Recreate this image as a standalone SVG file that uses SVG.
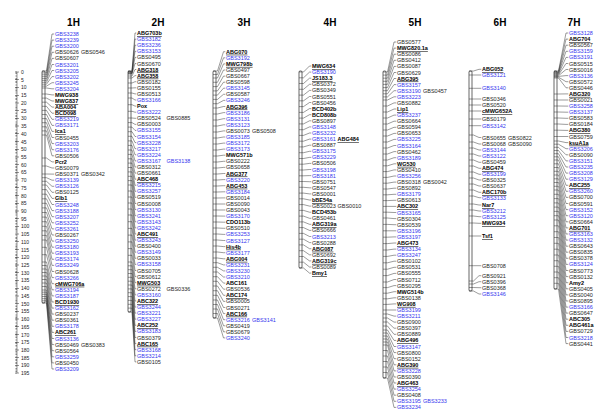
<svg xmlns="http://www.w3.org/2000/svg" width="600" height="415" viewBox="0 0 600 415">
<style>
.t{font-family:"Liberation Sans",Arial,sans-serif;font-size:5.5px;fill:#1e1e1e}
.b{fill:#3636ee}
.m{font-weight:bold;fill:#000}
.u{font-weight:bold;fill:#000;text-decoration:underline}
.h{font-family:"Liberation Sans",Arial,sans-serif;font-size:10px;font-weight:bold;text-anchor:middle;fill:#000}
.bar{fill:#fff;stroke:#000;stroke-width:0.6}
.c{fill:none;stroke:#222;stroke-width:0.45}
.r{font-family:"Liberation Sans",Arial,sans-serif;font-size:5px;fill:#222}
</style>
<rect width="600" height="415" fill="#fff"/>
<g id="scale">
<line x1="17" y1="72" x2="17" y2="373.1" stroke="#333" stroke-width="0.5"/>
<line x1="16.2" y1="71.8" x2="16.2" y2="373.5" stroke="#333" stroke-width="1.6" stroke-dasharray="0.4 1.144"/>
<line x1="17" y1="71.75" x2="17" y2="373.5" stroke="#333" stroke-width="4" stroke-dasharray="0.5 7.22"/>
<g class="r" transform="translate(21,0)">
<text y="74">0</text><text y="81.7">5</text><text y="89.4">10</text><text y="97.2">15</text><text y="104.9">20</text><text y="112.6">25</text><text y="120.3">30</text><text y="128">35</text><text y="135.8">40</text><text y="143.5">45</text><text y="151.2">50</text><text y="158.9">55</text><text y="166.6">60</text><text y="174.4">65</text><text y="182.1">70</text><text y="189.8">75</text><text y="197.5">80</text><text y="205.2">85</text><text y="213">90</text><text y="220.7">95</text><text y="228.4">100</text><text y="236.1">105</text><text y="243.8">110</text><text y="251.6">115</text><text y="259.3">120</text><text y="267">125</text><text y="274.7">130</text><text y="282.4">135</text><text y="290.2">140</text><text y="297.9">145</text><text y="305.6">150</text><text y="313.3">155</text><text y="321">160</text><text y="328.8">165</text><text y="336.5">170</text><text y="344.2">175</text><text y="351.9">180</text><text y="359.6">185</text><text y="367.4">190</text><text y="375.1">195</text>
</g>
</g>
<g id="bars">
<rect class="bar" x="42" y="71" width="3" height="232" rx="1"/>
<rect class="bar" x="128" y="71" width="3" height="241" rx="1"/>
<rect class="bar" x="213" y="71" width="3" height="247" rx="1"/>
<rect class="bar" x="299" y="71" width="3" height="197" rx="1"/>
<rect class="bar" x="383" y="71" width="3" height="307" rx="1"/>
<rect class="bar" x="469" y="71" width="3" height="220" rx="1"/>
<rect class="bar" x="554" y="71" width="3" height="218" rx="1"/>
</g>
<g id="connectors" class="c">
<path d="M42 71H46.5L52 34H54.2M42 72.9H46.5L52 40.1H54.2M42 74.8H46.5L52 46.2H54.2M42 76.7H46.5L52 52.3H54.2M42 78.6H46.5L52 58.4H54.2M42 80.4H46.5L52 64.5H54.2M42 82.3H46.5L52 70.5H54.2M42 84.2H46.5L52 76.6H54.2M42 86.1H46.5L52 82.7H54.2M42 88H46.5L52 88.8H54.2M42 94H46.5L52 94.9H54.2M42 98.1H46.5L52 101H54.2M42 102.2H46.5L52 107.1H54.2M42 106.3H46.5L52 113.2H54.2M42 110.4H46.5L52 119.3H54.2M42 114.5H46.5L52 125.4H54.2M42 118.6H46.5L52 131.4H54.2M42 122.7H46.5L52 137.5H54.2M42 126.8H46.5L52 143.6H54.2M42 130.9H46.5L52 149.7H54.2M42 135H46.5L52 155.8H54.2M42 158H46.5L52 161.9H54.2M42 166H46.5L52 168H54.2M42 174H46.5L52 174.1H54.2M42 177.7H46.5L52 180.2H54.2M42 181.3H46.5L52 186.3H54.2M42 185H46.5L52 192.3H54.2M42 189.6H46.5L52 198.4H54.2M42 194.2H46.5L52 204.5H54.2M42 198.8H46.5L52 210.6H54.2M42 203.3H46.5L52 216.7H54.2M42 207.9H46.5L52 222.8H54.2M42 212.5H46.5L52 228.9H54.2M42 217.1H46.5L52 235H54.2M42 221.7H46.5L52 241.1H54.2M42 226.3H46.5L52 247.2H54.2M42 230.8H46.5L52 253.2H54.2M42 235.4H46.5L52 259.3H54.2M42 240H46.5L52 265.4H54.2M42 247.3H46.5L52 271.5H54.2M42 254.7H46.5L52 277.6H54.2M42 262H46.5L52 283.7H54.2M42 265.5H46.5L52 289.8H54.2M42 269H46.5L52 295.9H54.2M42 272.5H46.5L52 302H54.2M42 276H46.5L52 308.1H54.2M42 279.5H46.5L52 314.1H54.2M42 283H46.5L52 320.2H54.2M42 286.5H46.5L52 326.3H54.2M42 290H46.5L52 332.4H54.2M42 292.2H46.5L52 338.5H54.2M42 294.3H46.5L52 344.6H54.2M42 296.5H46.5L52 350.7H54.2M42 298.7H46.5L52 356.8H54.2M42 300.8H46.5L52 362.9H54.2M42 303H46.5L52 369H54.2"/>
<path d="M128 71H132L135 33H136.3M128 71.6H132L135 39.1H136.3M128 72.2H132L135 45.2H136.3M128 72.8H132L135 51.3H136.3M128 73.4H132L135 57.4H136.3M128 74H132L135 63.5H136.3M128 76H132L135 69.5H136.3M128 78H132L135 75.6H136.3M128 83H132L135 81.7H136.3M128 88H132L135 87.8H136.3M128 93H132L135 93.9H136.3M128 98H132L135 100H136.3M128 104.7H132L135 106.1H136.3M128 111.3H132L135 112.2H136.3M128 118H132L135 118.3H136.3M128 122.6H132L135 124.4H136.3M128 127.1H132L135 130.4H136.3M128 131.7H132L135 136.5H136.3M128 136.3H132L135 142.6H136.3M128 140.9H132L135 148.7H136.3M128 145.4H132L135 154.8H136.3M128 150H132L135 160.9H136.3M128 154.4H132L135 167H136.3M128 158.8H132L135 173.1H136.3M128 163.1H132L135 179.2H136.3M128 167.5H132L135 185.3H136.3M128 171.9H132L135 191.3H136.3M128 176.3H132L135 197.4H136.3M128 180.6H132L135 203.5H136.3M128 185H132L135 209.6H136.3M128 191H132L135 215.7H136.3M128 197H132L135 221.8H136.3M128 203H132L135 227.9H136.3M128 209H132L135 234H136.3M128 215H132L135 240.1H136.3M128 221.7H132L135 246.2H136.3M128 228.4H132L135 252.2H136.3M128 235.1H132L135 258.3H136.3M128 241.9H132L135 264.4H136.3M128 248.6H132L135 270.5H136.3M128 255.3H132L135 276.6H136.3M128 262H132L135 282.7H136.3M128 265.8H132L135 288.8H136.3M128 269.7H132L135 294.9H136.3M128 273.5H132L135 301H136.3M128 277.3H132L135 307.1H136.3M128 281.2H132L135 313.1H136.3M128 285H132L135 319.2H136.3M128 288.9H132L135 325.3H136.3M128 292.7H132L135 331.4H136.3M128 296.6H132L135 337.5H136.3M128 300.4H132L135 343.6H136.3M128 304.3H132L135 349.7H136.3M128 308.1H132L135 355.8H136.3M128 312H132L135 361.9H136.3"/>
<path d="M213 71H217.5L223.5 51.7H225.3M213 74.5H217.5L223.5 57.8H225.3M213 78H217.5L223.5 63.9H225.3M213 82.3H217.5L223.5 70H225.3M213 86.6H217.5L223.5 76.1H225.3M213 90.9H217.5L223.5 82.2H225.3M213 95.1H217.5L223.5 88.2H225.3M213 99.4H217.5L223.5 94.3H225.3M213 103.7H217.5L223.5 100.4H225.3M213 108H217.5L223.5 106.5H225.3M213 114H217.5L223.5 112.6H225.3M213 120H217.5L223.5 118.7H225.3M213 126H217.5L223.5 124.8H225.3M213 132H217.5L223.5 130.9H225.3M213 138H217.5L223.5 137H225.3M213 144H217.5L223.5 143.1H225.3M213 150H217.5L223.5 149.1H225.3M213 156H217.5L223.5 155.2H225.3M213 162H217.5L223.5 161.3H225.3M213 168H217.5L223.5 167.4H225.3M213 174H217.5L223.5 173.5H225.3M213 180H217.5L223.5 179.6H225.3M213 186H217.5L223.5 185.7H225.3M213 192H217.5L223.5 191.8H225.3M213 198H217.5L223.5 197.9H225.3M213 204H217.5L223.5 204H225.3M213 210H217.5L223.5 210H225.3M213 216H217.5L223.5 216.1H225.3M213 222H217.5L223.5 222.2H225.3M213 228H217.5L223.5 228.3H225.3M213 234H217.5L223.5 234.4H225.3M213 240H217.5L223.5 240.5H225.3M213 246H217.5L223.5 246.6H225.3M213 252H217.5L223.5 252.7H225.3M213 258H217.5L223.5 258.8H225.3M213 262.7H217.5L223.5 264.9H225.3M213 267.3H217.5L223.5 270.9H225.3M213 272H217.5L223.5 277H225.3M213 276.7H217.5L223.5 283.1H225.3M213 281.3H217.5L223.5 289.2H225.3M213 286H217.5L223.5 295.3H225.3M213 290.7H217.5L223.5 301.4H225.3M213 295.3H217.5L223.5 307.5H225.3M213 300H217.5L223.5 313.6H225.3M213 304.5H217.5L223.5 319.7H225.3M213 309H217.5L223.5 325.8H225.3M213 313.5H217.5L223.5 331.8H225.3M213 318H217.5L223.5 337.9H225.3"/>
<path d="M299 72H303.5L309.5 66H311.3M299 77.8H303.5L309.5 72.1H311.3M299 83.5H303.5L309.5 78.2H311.3M299 89.3H303.5L309.5 84.3H311.3M299 95.1H303.5L309.5 90.4H311.3M299 100.8H303.5L309.5 96.5H311.3M299 106.6H303.5L309.5 102.5H311.3M299 112.4H303.5L309.5 108.6H311.3M299 118.1H303.5L309.5 114.7H311.3M299 123.9H303.5L309.5 120.8H311.3M299 129.7H303.5L309.5 126.9H311.3M299 135.4H303.5L309.5 133H311.3M299 141.2H303.5L309.5 139.1H311.3M299 146.9H303.5L309.5 145.2H311.3M299 152.7H303.5L309.5 151.3H311.3M299 158.5H303.5L309.5 157.4H311.3M299 164.2H303.5L309.5 163.4H311.3M299 170H303.5L309.5 169.5H311.3M299 175.8H303.5L309.5 175.6H311.3M299 181.5H303.5L309.5 181.7H311.3M299 187.3H303.5L309.5 187.8H311.3M299 193.1H303.5L309.5 193.9H311.3M299 198.8H303.5L309.5 200H311.3M299 204.6H303.5L309.5 206.1H311.3M299 210.4H303.5L309.5 212.2H311.3M299 216.1H303.5L309.5 218.3H311.3M299 221.9H303.5L309.5 224.3H311.3M299 227.6H303.5L309.5 230.4H311.3M299 233.4H303.5L309.5 236.5H311.3M299 239.2H303.5L309.5 242.6H311.3M299 244.9H303.5L309.5 248.7H311.3M299 250.7H303.5L309.5 254.8H311.3M299 256.5H303.5L309.5 260.9H311.3M299 262.2H303.5L309.5 267H311.3M299 268H303.5L309.5 273.1H311.3"/>
<path d="M383 72H387.5L394 42H396.3M383 75.1H387.5L394 48.1H396.3M383 78.2H387.5L394 54.2H396.3M383 81.3H387.5L394 60.3H396.3M383 84.4H387.5L394 66.4H396.3M383 87.6H387.5L394 72.5H396.3M383 90.7H387.5L394 78.5H396.3M383 93.8H387.5L394 84.6H396.3M383 96.9H387.5L394 90.7H396.3M383 100H387.5L394 96.8H396.3M383 106H387.5L394 102.9H396.3M383 112H387.5L394 109H396.3M383 118H387.5L394 115.1H396.3M383 124H387.5L394 121.2H396.3M383 130H387.5L394 127.3H396.3M383 136H387.5L394 133.4H396.3M383 142H387.5L394 139.4H396.3M383 148H387.5L394 145.5H396.3M383 154H387.5L394 151.6H396.3M383 160H387.5L394 157.7H396.3M383 165.8H387.5L394 163.8H396.3M383 171.6H387.5L394 169.9H396.3M383 177.4H387.5L394 176H396.3M383 183.2H387.5L394 182.1H396.3M383 189H387.5L394 188.2H396.3M383 194.8H387.5L394 194.3H396.3M383 200.6H387.5L394 200.3H396.3M383 206.4H387.5L394 206.4H396.3M383 212.2H387.5L394 212.5H396.3M383 218H387.5L394 218.6H396.3M383 224.4H387.5L394 224.7H396.3M383 230.8H387.5L394 230.8H396.3M383 237.2H387.5L394 236.9H396.3M383 243.6H387.5L394 243H396.3M383 250H387.5L394 249.1H396.3M383 256.4H387.5L394 255.2H396.3M383 262.8H387.5L394 261.2H396.3M383 269.2H387.5L394 267.3H396.3M383 275.6H387.5L394 273.4H396.3M383 282H387.5L394 279.5H396.3M383 287.6H387.5L394 285.6H396.3M383 293.2H387.5L394 291.7H396.3M383 298.8H387.5L394 297.8H396.3M383 304.4H387.5L394 303.9H396.3M383 310H387.5L394 310H396.3M383 314H387.5L394 316.1H396.3M383 318H387.5L394 322.1H396.3M383 322H387.5L394 328.2H396.3M383 326H387.5L394 334.3H396.3M383 330H387.5L394 340.4H396.3M383 333H387.5L394 346.5H396.3M383 336H387.5L394 352.6H396.3M383 339H387.5L394 358.7H396.3M383 342H387.5L394 364.8H396.3M383 345H387.5L394 370.9H396.3M383 350.5H387.5L394 377H396.3M383 356H387.5L394 383H396.3M383 361.5H387.5L394 389.1H396.3M383 367H387.5L394 395.2H396.3M383 372.5H387.5L394 401.3H396.3M383 378H387.5L394 407.4H396.3"/>
<path d="M469 71H473.5L479 69.3H481.3M469 75H473.5L479 75H481.3M469 88.3H473.5L479 88.3H481.3M469 99H473.5L479 99H481.3M469 105H473.5L479 105H481.3M469 111H473.5L479 111H481.3M469 119H473.5L479 119H481.3M469 125.7H473.5L479 125.7H481.3M469 135H473.5L479 137.5H481.3M469 142H473.5L479 144H481.3M469 148H473.5L479 150H481.3M469 154H473.5L479 156H481.3M469 160H473.5L479 162.3H481.3M469 166H473.5L479 168.3H481.3M469 172H473.5L479 174.3H481.3M469 178H473.5L479 180H481.3M469 184H473.5L479 186H481.3M469 190H473.5L479 192.3H481.3M469 196H473.5L479 197.7H481.3M469 204H473.5L479 205H481.3M469 210H473.5L479 211H481.3M469 216H473.5L479 216.7H481.3M469 223H473.5L479 223.3H481.3M469 236H473.5L479 236H481.3M469 265.7H473.5L479 265.7H481.3M469 281H473.5L479 275.7H481.3M469 284H473.5L479 281.7H481.3M469 287.5H473.5L479 287.7H481.3M469 291H473.5L479 294H481.3"/>
<path d="M554 71H558.5L566 33H568.3M554 71.8H558.5L566 39.1H568.3M554 72.6H558.5L566 45.2H568.3M554 73.3H558.5L566 51.3H568.3M554 74.1H558.5L566 57.4H568.3M554 74.9H558.5L566 63.5H568.3M554 75.7H558.5L566 69.5H568.3M554 76.4H558.5L566 75.6H568.3M554 77.2H558.5L566 81.7H568.3M554 78H558.5L566 87.8H568.3M554 94H558.5L566 93.9H568.3M554 100H558.5L566 100H568.3M554 106H558.5L566 106.1H568.3M554 112H558.5L566 112.2H568.3M554 118H558.5L566 118.3H568.3M554 124H558.5L566 124.4H568.3M554 130.2H558.5L566 130.4H568.3M554 136.5H558.5L566 136.5H568.3M554 141H558.5L566 142.6H568.3M554 144.2H558.5L566 148.7H568.3M554 147.3H558.5L566 154.8H568.3M554 150.5H558.5L566 160.9H568.3M554 153.7H558.5L566 167H568.3M554 156.8H558.5L566 173.1H568.3M554 160H558.5L566 179.2H568.3M554 163.8H558.5L566 185.3H568.3M554 167.5H558.5L566 191.3H568.3M554 171.3H558.5L566 197.4H568.3M554 175H558.5L566 203.5H568.3M554 178.8H558.5L566 209.6H568.3M554 182.5H558.5L566 215.7H568.3M554 186.3H558.5L566 221.8H568.3M554 190H558.5L566 227.9H568.3M554 194.3H558.5L566 234H568.3M554 198.6H558.5L566 240.1H568.3M554 202.9H558.5L566 246.2H568.3M554 207.1H558.5L566 252.2H568.3M554 211.4H558.5L566 258.3H568.3M554 215.7H558.5L566 264.4H568.3M554 220H558.5L566 270.5H568.3M554 225.8H558.5L566 276.6H568.3M554 231.7H558.5L566 282.7H568.3M554 237.5H558.5L566 288.8H568.3M554 243.3H558.5L566 294.9H568.3M554 249.2H558.5L566 301H568.3M554 255H558.5L566 307.1H568.3M554 260.7H558.5L566 313.1H568.3M554 266.3H558.5L566 319.2H568.3M554 272H558.5L566 325.3H568.3M554 277.7H558.5L566 331.4H568.3M554 283.3H558.5L566 337.5H568.3M554 289H558.5L566 343.6H568.3"/>
</g>
<g id="chr1H">
<text class="h" x="73.5" y="26">1H</text>
<g class="t" transform="translate(55,0)">
<text y="36" class="b">GBS3238</text><text y="42.1" class="b">GBS3239</text><text y="48.2" class="b">GBS3200</text><text y="54.3">GBS0626</text><text x="26" y="54.3">GBS0546</text><text y="60.4">GBS0607</text><text y="66.5" class="b">GBS3201</text><text y="72.5" class="b">GBS3205</text><text y="78.6" class="b">GBS3202</text><text y="84.7" class="b">GBS3245</text><text y="90.8" class="b">GBS3204</text><text y="96.9" class="m">MWG938</text><text y="103" class="u">MWG837</text><text y="109.1" class="u">ABA004</text><text y="115.2" class="u">BCD098</text><text y="121.3" class="b">GBS3219</text><text y="127.4" class="b">GBS3171</text><text y="133.4" class="u">Ica1</text><text y="139.5">GBS0455</text><text y="145.6" class="b">GBS3203</text><text y="151.7" class="b">GBS3176</text><text y="157.8">GBS0506</text><text y="163.9" class="m">Pcr2</text><text y="170">GBS0079</text><text y="176.1">GBS0371</text><text x="26" y="176.1">GBS0342</text><text y="182.2" class="b">GBS3139</text><text y="188.3" class="b">GBS3126</text><text y="194.3">GBS0125</text><text y="200.4" class="u">Glb1</text><text y="206.5" class="b">GBS3248</text><text y="212.6" class="b">GBS3188</text><text y="218.7" class="b">GBS3207</text><text y="224.8" class="b">GBS3252</text><text y="230.9" class="b">GBS3261</text><text y="237">GBS0267</text><text y="243.1" class="b">GBS3250</text><text y="249.2" class="b">GBS3180</text><text y="255.2" class="b">GBS3193</text><text y="261.3" class="b">GBS3174</text><text y="267.4" class="b">GBS3249</text><text y="273.5">GBS0628</text><text y="279.6" class="b">GBS3266</text><text y="285.7" class="u">cMWG706a</text><text y="291.8" class="b">GBS3194</text><text y="297.9" class="b">GBS3187</text><text y="304" class="u">BCD1930</text><text y="310.1" class="b">GBS3162</text><text y="316.1">GBS0237</text><text y="322.2">GBS0361</text><text y="328.3" class="b">GBS3178</text><text y="334.4" class="u">ABC261</text><text y="340.5" class="b">GBS3136</text><text y="346.6">GBS0469</text><text x="26" y="346.6">GBS0383</text><text y="352.7">GBS0564</text><text y="358.8" class="b">GBS3259</text><text y="364.9">GBS0450</text><text y="371" class="b">GBS3209</text>
</g>
</g>
<g id="chr2H">
<text class="h" x="158" y="26">2H</text>
<g class="t" transform="translate(137,0)">
<text y="35" class="u">ABG703b</text><text y="41.1" class="b">GBS3182</text><text y="47.2" class="b">GBS3236</text><text y="53.3" class="b">GBS3153</text><text y="59.4">GBS0495</text><text y="65.5">GBS0670</text><text y="71.5" class="u">ABG318</text><text y="77.6" class="u">ABG358</text><text y="83.7">GBS0182</text><text y="89.8">GBS0155</text><text y="95.9">GBS0513</text><text y="102" class="b">GBS3166</text><text y="108.1" class="m">Pox</text><text y="114.2" class="b">GBS3222</text><text y="120.3">GBS0524</text><text x="29.5" y="120.3">GBS0885</text><text y="126.4">GBS0003</text><text y="132.4" class="b">GBS3155</text><text y="138.5" class="b">GBS3154</text><text y="144.6" class="b">GBS3228</text><text y="150.7" class="b">GBS3217</text><text y="156.8" class="b">GBS3224</text><text y="162.9" class="b">GBS3167</text><text x="29.5" y="162.9" class="b">GBS3138</text><text y="169">GBS0312</text><text y="175.1">GBS0661</text><text y="181.2" class="u">ABC468</text><text y="187.3" class="b">GBS3215</text><text y="193.3" class="b">GBS3257</text><text y="199.4">GBS0519</text><text y="205.5">GBS0008</text><text y="211.6" class="b">GBS3130</text><text y="217.7" class="b">GBS3241</text><text y="223.8" class="b">GBS3143</text><text y="229.9" class="b">GBS3242</text><text y="236" class="u">ABC491</text><text y="242.1" class="b">GBS3243</text><text y="248.2">GBS0400</text><text y="254.2" class="b">GBS3149</text><text y="260.3">GBS0033</text><text y="266.4" class="b">GBS3158</text><text y="272.5">GBS0705</text><text y="278.6">GBS0612</text><text y="284.7" class="u">MWG503</text><text y="290.8">GBS0272</text><text x="29.5" y="290.8">GBS0336</text><text y="296.9" class="b">GBS3160</text><text y="303" class="u">ABC322</text><text y="309.1" class="b">GBS3244</text><text y="315.1" class="b">GBS3221</text><text y="321.2" class="b">GBS3227</text><text y="327.3" class="u">ABC252</text><text y="333.4" class="b">GBS3183</text><text y="339.5">GBS0379</text><text y="345.6" class="u">ABC165</text><text y="351.7" class="b">GBS3168</text><text y="357.8" class="b">GBS3214</text><text y="363.9">GBS0105</text>
</g>
</g>
<g id="chr3H">
<text class="h" x="244" y="26">3H</text>
<g class="t" transform="translate(226,0)">
<text y="53.7" class="u">ABG070</text><text y="59.8" class="b">GBS3192</text><text y="65.9" class="u">MWG798b</text><text y="72">GBS0497</text><text y="78.1">GBS0667</text><text y="84.2">GBS0598</text><text y="90.2" class="b">GBS3145</text><text y="96.3">GBS0587</text><text y="102.4" class="b">GBS3246</text><text y="108.5" class="u">ABG396</text><text y="114.6" class="b">GBS3186</text><text y="120.7" class="b">GBS3131</text><text y="126.8" class="b">GBS3123</text><text y="132.9">GBS0073</text><text x="26" y="132.9">GBS0508</text><text y="139" class="b">GBS3185</text><text y="145.1" class="b">GBS3172</text><text y="151.1" class="b">GBS3173</text><text y="157.2" class="m">MWG571b</text><text y="163.3">GBS0222</text><text y="169.4">GBS0658</text><text y="175.5" class="u">ABG377</text><text y="181.6" class="b">GBS3220</text><text y="187.7" class="u">ABG453</text><text y="193.8" class="b">GBS3184</text><text y="199.9">GBS0014</text><text y="206">GBS0090</text><text y="212">GBS0043</text><text y="218.1" class="b">GBS3170</text><text y="224.2" class="m">CDO113b</text><text y="230.3">GBS0510</text><text y="236.4" class="b">GBS3253</text><text y="242.5" class="b">GBS3127</text><text y="248.6" class="u">His4b</text><text y="254.7" class="b">GBS3177</text><text y="260.8" class="u">ABG004</text><text y="266.9" class="b">GBS3231</text><text y="272.9" class="b">GBS3230</text><text y="279" class="b">GBS3210</text><text y="285.1" class="m">ABC161</text><text y="291.2">GBS0536</text><text y="297.3" class="u">ABC174</text><text y="303.4">GBS0005</text><text y="309.5">GBS0271</text><text y="315.6" class="u">ABC166</text><text y="321.7" class="b">GBS3216</text><text x="26" y="321.7" class="b">GBS3141</text><text y="327.8">GBS0419</text><text y="333.8">GBS0679</text><text y="339.9" class="b">GBS3240</text>
</g>
</g>
<g id="chr4H">
<text class="h" x="330" y="26">4H</text>
<g class="t" transform="translate(312,0)">
<text y="68" class="u">MWG634</text><text y="74.1" class="b">GBS3190</text><text y="80.2" class="u">JS183.3</text><text y="86.3">GBS0372</text><text y="92.4">GBS0349</text><text y="98.5">GBS0551</text><text y="104.5">GBS0456</text><text y="110.6" class="m">BCD402b</text><text y="116.7" class="m">BCD808b</text><text y="122.8">GBS0897</text><text y="128.9" class="b">GBS3148</text><text y="135" class="b">GBS3232</text><text y="141.1" class="b">GBS3161</text><text x="25.5" y="141.1" class="u">ABG484</text><text y="147.2">GBS0887</text><text y="153.3" class="b">GBS3175</text><text y="159.4" class="b">GBS3229</text><text y="165.4">GBS0506</text><text y="171.5" class="b">GBS3198</text><text y="177.6" class="b">GBS3181</text><text y="183.7">GBS0751</text><text y="189.8">GBS0547</text><text y="195.9">GBS0001</text><text y="202" class="u">bBE54a</text><text y="208.1">GBS0023</text><text x="25.5" y="208.1">GBS0010</text><text y="214.2" class="m">BCD453b</text><text y="220.3">GBS0461</text><text y="226.3" class="u">ABG319a</text><text y="232.4">GBS0666</text><text y="238.5" class="b">GBS3213</text><text y="244.6">GBS0288</text><text y="250.7" class="u">ABG087</text><text y="256.8">GBS0692</text><text y="262.9" class="u">ABG319c</text><text y="269">GBS0089</text><text y="275.1" class="u">Bmy1</text>
</g>
</g>
<g id="chr5H">
<text class="h" x="415" y="26">5H</text>
<g class="t" transform="translate(397,0)">
<text y="44">GBS0577</text><text y="50.1" class="u">MWG820.1a</text><text y="56.2">GBS0086</text><text y="62.3">GBS0412</text><text y="68.4">GBS0087</text><text y="74.5">GBS0629</text><text y="80.5" class="u">ABG395</text><text y="86.6" class="b">GBS3157</text><text y="92.7" class="b">GBS3190</text><text x="26" y="92.7">GBS0457</text><text y="98.8" class="b">GBS3223</text><text y="104.9">GBS0882</text><text y="111" class="u">Lip1</text><text y="117.1" class="b">GBS3237</text><text y="123.2">GBS0664</text><text y="129.3">GBS0594</text><text y="135.4">GBS0653</text><text y="141.4" class="b">GBS3225</text><text y="147.5" class="b">GBS3164</text><text y="153.6">GBS0462</text><text y="159.7" class="b">GBS3189</text><text y="165.8" class="u">WG530</text><text y="171.9">GBS0410</text><text y="178" class="b">GBS3256</text><text y="184.1">GBS0318</text><text x="26" y="184.1">GBS0042</text><text y="190.2">GBS0892</text><text y="196.3" class="b">GBS3179</text><text y="202.3">GBS0613</text><text y="208.4" class="u">ABC302</text><text y="214.5" class="b">GBS3165</text><text y="220.6">GBS0304</text><text y="226.7">GBS0539</text><text y="232.8" class="b">GBS3196</text><text y="238.9" class="b">GBS3197</text><text y="245" class="u">ABG473</text><text y="251.1" class="b">GBS3134</text><text y="257.2" class="b">GBS3247</text><text y="263.2">GBS0102</text><text y="269.3">GBS0531</text><text y="275.4">GBS0555</text><text y="281.5">GBS0712</text><text y="287.6">GBS0295</text><text y="293.7" class="m">MWG514b</text><text y="299.8">GBS0138</text><text y="305.9" class="u">WG908</text><text y="312" class="b">GBS3199</text><text y="318.1" class="b">GBS3211</text><text y="324.1">GBS0900</text><text y="330.2">GBS0397</text><text y="336.3">GBS0889</text><text y="342.4" class="u">ABG496</text><text y="348.5" class="b">GBS3147</text><text y="354.6">GBS0800</text><text y="360.7">GBS0152</text><text y="366.8" class="u">ABG390</text><text y="372.9" class="b">GBS3228</text><text y="379">GBS0390</text><text y="385" class="u">ABG463</text><text y="391.1" class="b">GBS3254</text><text y="397.2">GBS0408</text><text y="403.3" class="b">GBS3195</text><text x="26" y="403.3" class="b">GBS3233</text><text y="409.4" class="b">GBS3234</text>
</g>
</g>
<g id="chr6H">
<text class="h" x="500" y="26">6H</text>
<g class="t" transform="translate(482,0)">
<text y="71.3" class="u">ABG052</text><text y="77" class="b">GBS3121</text><text y="90.3" class="b">GBS3140</text><text y="101">GBS0346</text><text y="107">GBS0520</text><text y="113" class="u">cMWG652A</text><text y="121">GBS0179</text><text y="127.7" class="b">GBS3142</text><text y="139.5">GBS0655</text><text x="26" y="139.5">GBS0822</text><text y="146">GBS0068</text><text x="26" y="146">GBS0090</text><text y="152" class="b">GBS3144</text><text y="158" class="b">GBS3122</text><text y="164.3">GBS0459</text><text y="170.3" class="u">ABG474</text><text y="176.3" class="b">GBS3199</text><text y="182">GBS0325</text><text y="188">GBS0637</text><text y="194.3" class="u">ABC170b</text><text y="199.7" class="b">GBS3133</text><text y="207" class="u">Nar7</text><text y="213" class="b">GBS3212</text><text y="218.7" class="b">GBS3125</text><text y="225.3" class="u">MWG934</text><text y="238" class="u">Tsf1</text><text y="267.7">GBS0708</text><text y="277.7">GBS0921</text><text y="283.7">GBS0396</text><text y="289.7">GBS0368</text><text y="296" class="b">GBS3146</text>
</g>
</g>
<g id="chr7H">
<text class="h" x="574" y="26">7H</text>
<g class="t" transform="translate(569,0)">
<text y="35" class="b">GBS3128</text><text y="41.1" class="u">ABG704</text><text y="47.2">GBS0567</text><text y="53.3" class="b">GBS3159</text><text y="59.4" class="b">GBS3191</text><text y="65.5">GBS0515</text><text y="71.5">GBS0016</text><text y="77.6" class="b">GBS3136</text><text y="83.7">GBS0572</text><text y="89.8">GBS0446</text><text y="95.9" class="u">ABG320</text><text y="102">GBS0021</text><text y="108.1" class="b">GBS3258</text><text y="114.2" class="b">GBS3137</text><text y="120.3">GBS0583</text><text y="126.4">GBS0184</text><text y="132.4" class="u">ABG380</text><text y="138.5">GBS0759</text><text y="144.6" class="u">ksuA1a</text><text y="150.7" class="b">GBS3206</text><text y="156.8">GBS0090</text><text y="162.9" class="b">GBS3151</text><text y="169" class="b">GBS3235</text><text y="175.1" class="b">GBS3208</text><text y="181.2" class="b">GBS3129</text><text y="187.3" class="u">ABC255</text><text y="193.3" class="b">GBS3260</text><text y="199.4">GBS0700</text><text y="205.5">GBS0591</text><text y="211.6" class="b">GBS3152</text><text y="217.7" class="b">GBS3120</text><text y="223.8">GBS0664</text><text y="229.9" class="u">ABG701</text><text y="236" class="b">GBS3163</text><text y="242.1" class="b">GBS3132</text><text y="248.2">GBS0643</text><text y="254.2">GBS0835</text><text y="260.3">GBS0378</text><text y="266.4" class="b">GBS3124</text><text y="272.5">GBS0773</text><text y="278.6">GBS0132</text><text y="284.7" class="m">Amy2</text><text y="290.8">GBS0405</text><text y="296.9">GBS0040</text><text y="303">GBS0895</text><text y="309.1" class="b">GBS3166</text><text y="315.1">GBS0647</text><text y="321.2" class="m">ABC305</text><text y="327.3" class="m">ABG461a</text><text y="333.4">GBS0729</text><text y="339.5" class="b">GBS3218</text><text y="345.6">GBS0441</text>
</g>
</g>
</svg>
